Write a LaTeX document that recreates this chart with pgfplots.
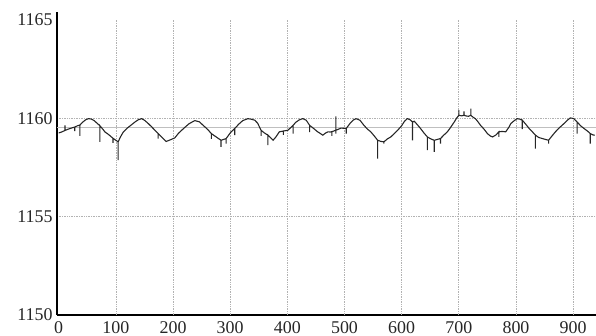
\documentclass[border=0pt]{standalone}
\usepackage{fontspec}
\setmainfont{Liberation Serif}
\usepackage{pgfplots}
\pgfplotsset{compat=1.18}
\begin{document}
\begin{tikzpicture}
\begin{axis}[
  scale only axis,
  width=539bp, height=303bp,
  xmin=-3, xmax=940, ymin=1150, ymax=1165.4,
  axis lines=left,
  axis line style={line width=1.4pt, -},
  xtick={0,100,200,300,400,500,600,700,800,900},
  ytick={1150,1155,1160,1165},
  major tick length=0pt,
  scaled ticks=false,
  /pgf/number format/1000 sep={},
  /pgf/number format/assume math mode=true,
  tick label style={font=\fontsize{18}{18}\selectfont, text=black!85},
  yticklabel style={xshift=-1bp},
  xticklabel style={yshift=-3bp},
]
\foreach \xx in {100,200,300,400,500,600,700,800,900}{
  \edef\tmp{\noexpand\draw[black!30, densely dotted, line width=0.7pt] (axis cs:\xx,1150) -- (axis cs:\xx,1165);}\tmp
}
\draw[black!30, densely dotted, line width=0.7pt] (axis cs:0,1155) -- (axis cs:940,1155);
\draw[black!30, densely dotted, line width=0.7pt] (axis cs:0,1160) -- (axis cs:940,1160);
\addplot[black!25, line width=0.8pt, mark=none] coordinates {(-3,1159.55) (940,1159.55)};
\addplot[black!85, line width=1.1pt, mark=none] coordinates {
(0,1159.25) (5,1159.30) (11,1159.38) (11,1159.64) (11,1159.38)
(17,1159.45) (22,1159.50) (28,1159.55) (28,1159.35) (28,1159.55) (33,1159.62) (37,1159.65) (37,1159.10) (37,1159.65)
(42,1159.80) (47,1159.92) (52,1159.98) (57,1159.96) (62,1159.88) (67,1159.75) (72,1159.62) (72,1158.80) (72,1159.62)
(77,1159.45) (81,1159.30) (86,1159.20) (91,1159.08) (95,1158.98) (95,1158.75) (95,1158.98) (100,1158.88) (104,1158.80) (104,1157.87) (104,1158.80)
(108,1159.05) (113,1159.30) (120,1159.50) (127,1159.66) (133,1159.80) (139,1159.92) (145,1159.98) (150,1159.90) (156,1159.75) (162,1159.58) (168,1159.40)
(174,1159.22) (174,1158.97) (174,1159.22) (180,1159.05) (188,1158.82) (195,1158.90) (203,1159.00) (210,1159.25) (220,1159.52) (228,1159.72) (238,1159.88)
(246,1159.82) (255,1159.58) (261,1159.42) (267,1159.22) (267,1158.95) (267,1159.22) (273,1159.10) (279,1158.98) (284,1158.88) (284,1158.55) (284,1158.88)
(293,1158.97) (293,1158.71) (293,1158.97) (300,1159.25) (308,1159.48) (308,1159.14) (308,1159.48) (315,1159.70) (322,1159.88) (331,1159.98) (337,1159.95)
(343,1159.90) (348,1159.75) (354,1159.39) (354,1159.10) (354,1159.39) (360,1159.25) (366,1159.14) (366,1158.63) (366,1159.14) (371,1159.00) (375,1158.88)
(380,1159.05) (386,1159.31) (393,1159.35) (393,1159.15) (393,1159.35) (401,1159.39) (405,1159.50) (410,1159.64) (410,1159.22) (410,1159.64) (415,1159.80) (421,1159.92) (427,1159.98)
(433,1159.90) (439,1159.64) (439,1159.30) (439,1159.64) (446,1159.48) (453,1159.31) (458,1159.22) (462,1159.14) (467,1159.25) (471,1159.31)
(475,1159.30) (478,1159.32) (478,1159.10) (478,1159.32) (485,1159.39) (485,1160.10) (485,1159.22) (485,1159.39) (494,1159.50) (503,1159.48) (503,1159.22) (503,1159.48)
(510,1159.75) (515,1159.90) (520,1159.98) (527,1159.90) (534,1159.64) (540,1159.45) (546,1159.31) (552,1159.10) (558,1158.88) (558,1157.95) (558,1158.88)
(564,1158.82) (569,1158.80) (569,1158.71) (569,1158.80) (575,1158.95) (581,1159.05) (587,1159.22) (593,1159.39) (600,1159.62) (605,1159.85) (610,1159.98)
(615,1159.92) (619,1159.81) (619,1158.88) (619,1159.81) (622,1159.85) (626,1159.72) (633,1159.48) (639,1159.25) (645,1159.05) (645,1158.38) (645,1159.05)
(651,1158.95) (657,1158.88) (657,1158.29) (657,1158.88) (662,1158.92) (668,1158.97) (668,1158.71) (668,1158.97) (674,1159.15) (680,1159.31) (686,1159.55)
(692,1159.81) (696,1160.00) (700,1160.15) (700,1160.41) (700,1160.15) (705,1160.12) (709,1160.15) (709,1160.35) (709,1160.15) (712,1160.12) (717,1160.10)
(721,1160.15) (721,1160.49) (721,1160.15) (725,1160.05) (729,1159.98) (734,1159.80) (738,1159.64) (744,1159.45) (750,1159.22) (755,1159.10) (759,1159.05)
(765,1159.15) (770,1159.31) (770,1159.05) (770,1159.31) (776,1159.33) (782,1159.31) (788,1159.56) (791,1159.73) (797,1159.88) (802,1159.98) (807,1159.95)
(811,1159.90) (811,1159.45) (811,1159.90) (817,1159.70) (823,1159.48) (829,1159.30) (834,1159.14) (834,1158.46) (834,1159.14) (840,1159.02) (846,1158.97)
(852,1158.92) (857,1158.88) (857,1158.71) (857,1158.88) (863,1159.10) (869,1159.31) (876,1159.52) (884,1159.73) (890,1159.90) (895,1160.02) (901,1159.98)
(907,1159.81) (907,1159.22) (907,1159.81) (913,1159.62) (919,1159.48) (925,1159.35) (930,1159.22) (930,1158.71) (930,1159.22) (935,1159.15) (938,1159.14)
};
\end{axis}
\pgfresetboundingbox
\path[use as bounding box] ([xshift=-57bp,yshift=-21bp]current axis.south west) rectangle ++(596bp,336bp);
\end{tikzpicture}
\end{document}
